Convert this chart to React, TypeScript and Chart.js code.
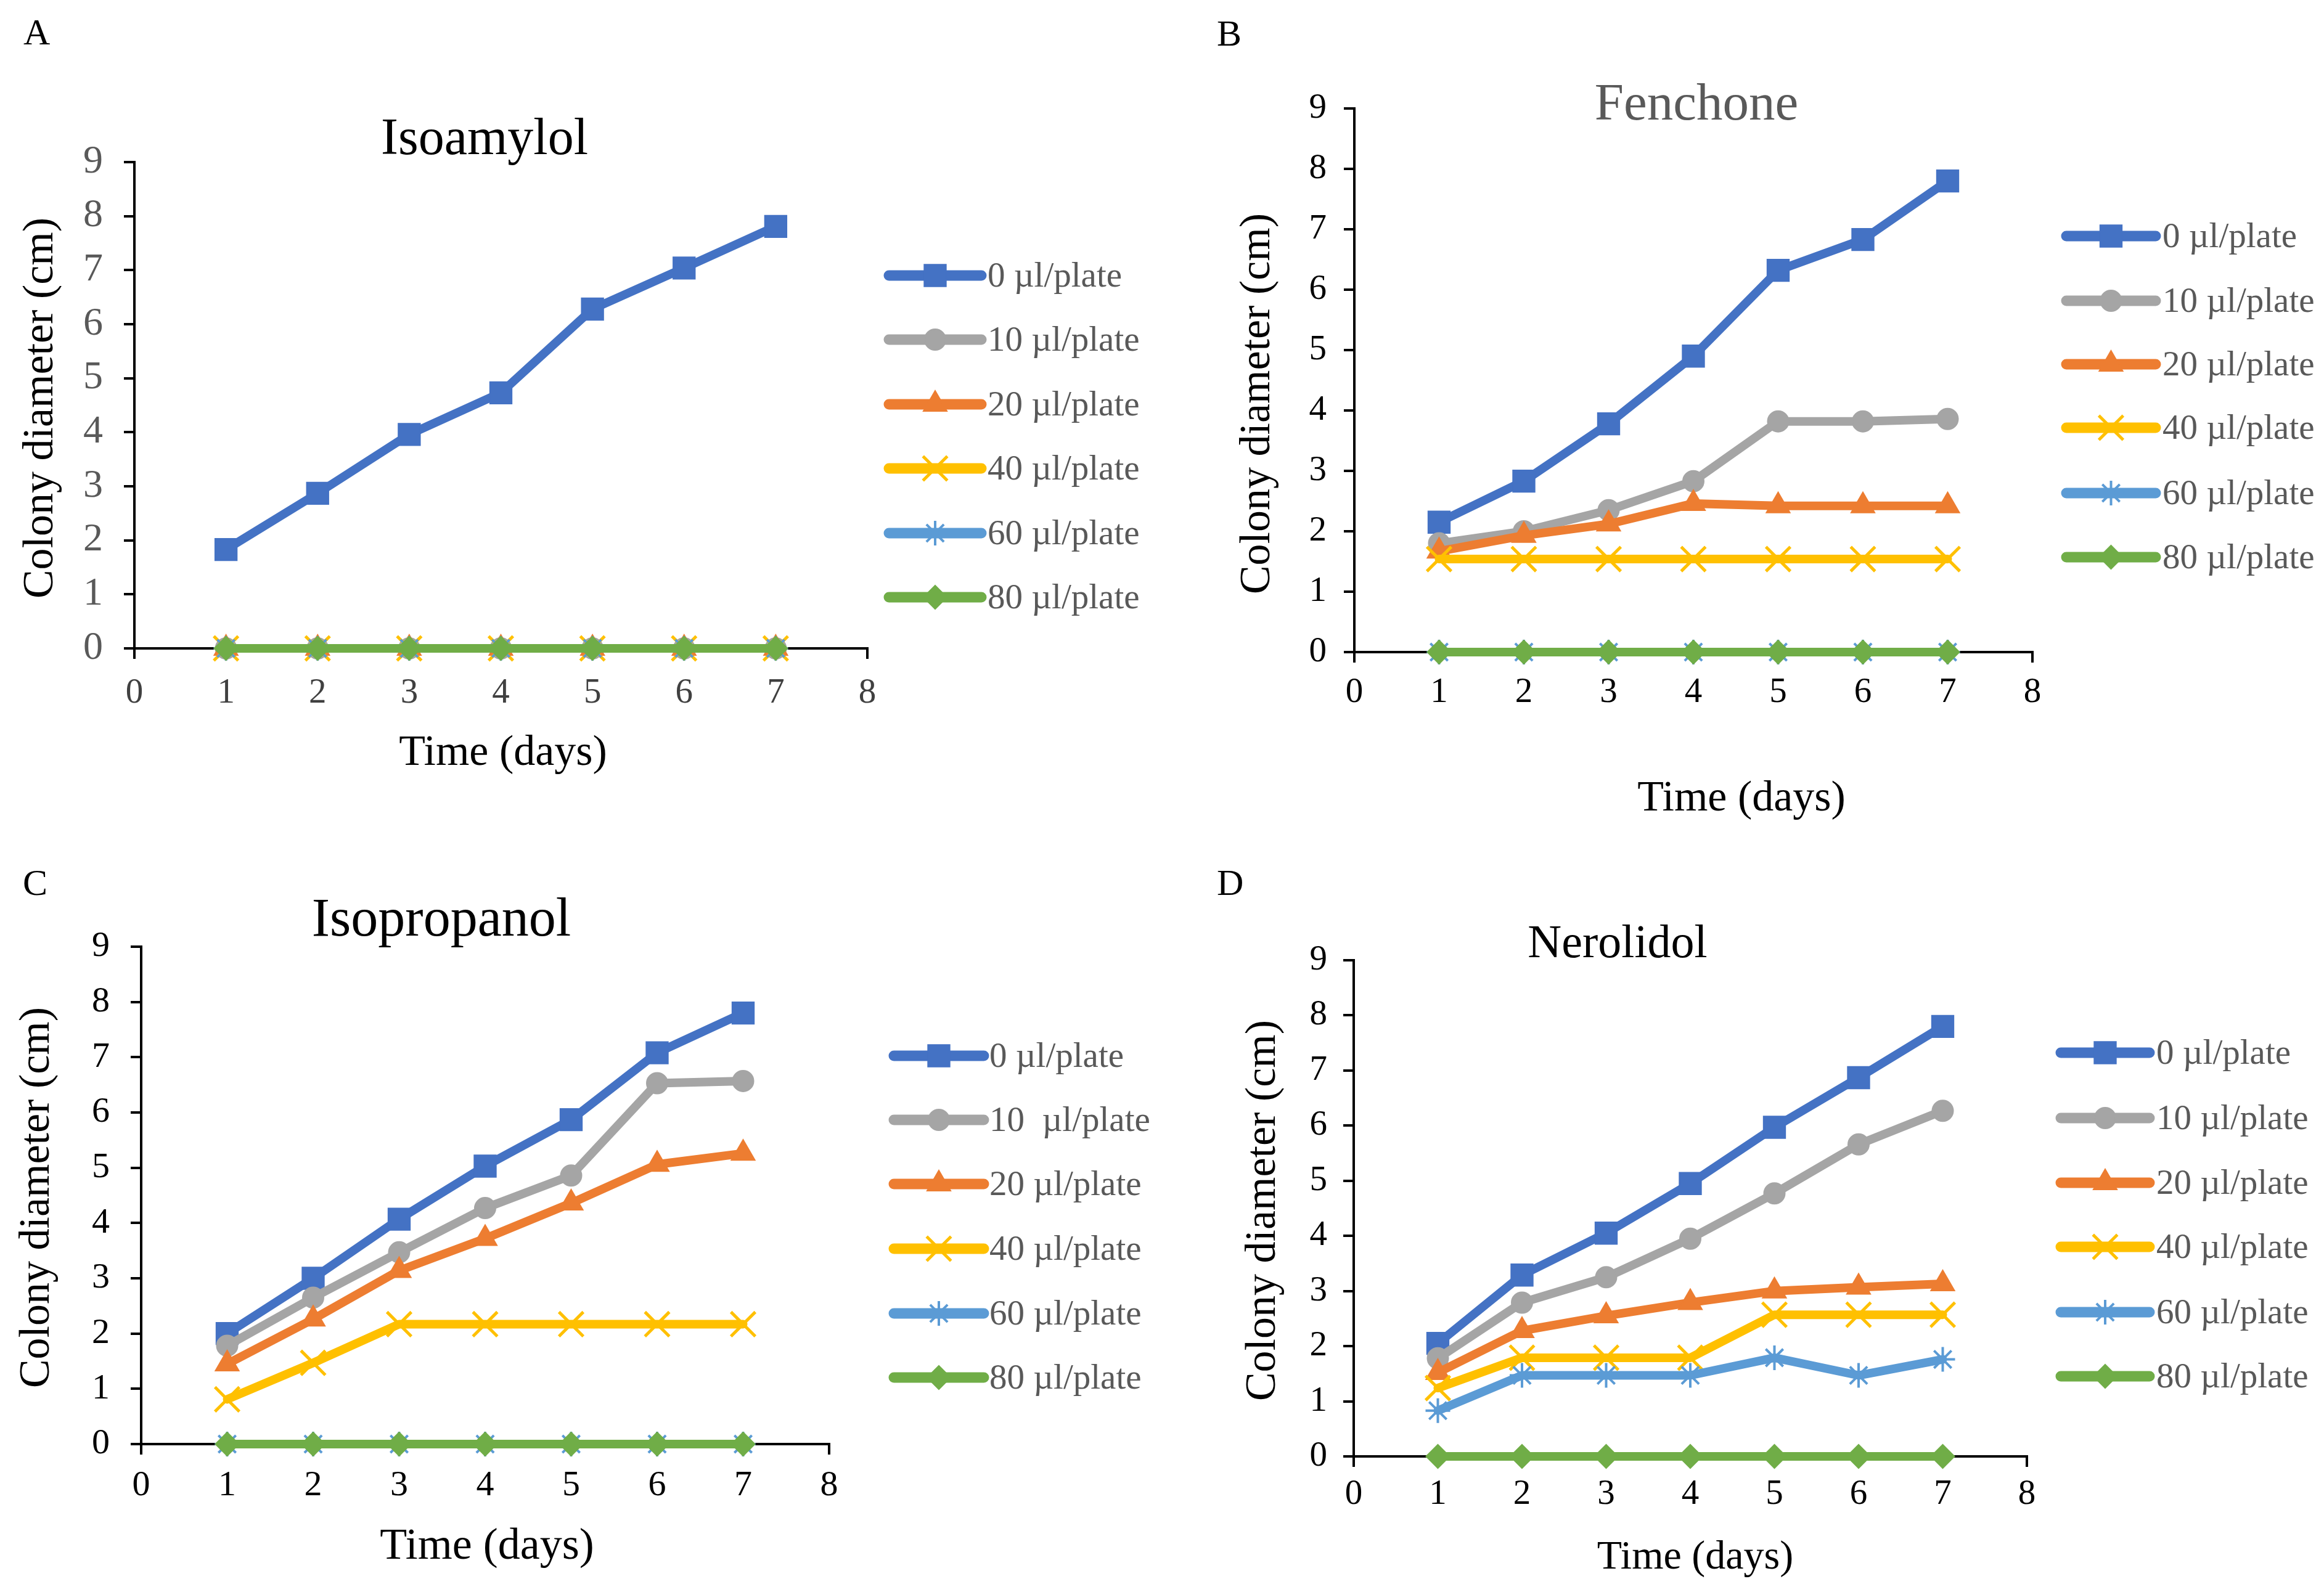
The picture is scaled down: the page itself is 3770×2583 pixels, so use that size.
import React, { useEffect, useRef } from 'react';
import { Chart, registerables } from 'chart.js';
import { drawPoint } from 'chart.js/helpers';

Chart.register(...registerables);

// ---------- data ----------
const days = [1, 2, 3, 4, 5, 6, 7];
const seriesLabels = ['0 µl/plate', '10 µl/plate', '20 µl/plate', '40 µl/plate', '60 µl/plate', '80 µl/plate'];
const seriesLabelsC = ['0 µl/plate', '10  µl/plate', '20 µl/plate', '40 µl/plate', '60 µl/plate', '80 µl/plate'];

// A: Isoamylol
const isoamylol0 = [1.83, 2.87, 3.96, 4.73, 6.28, 7.04, 7.81];
const isoamylol10 = [0, 0, 0, 0, 0, 0, 0];
const isoamylol20 = [0, 0, 0, 0, 0, 0, 0];
const isoamylol40 = [0, 0, 0, 0, 0, 0, 0];
const isoamylol60 = [0, 0, 0, 0, 0, 0, 0];
const isoamylol80 = [0, 0, 0, 0, 0, 0, 0];

// B: Fenchone
const fenchone0 = [2.15, 2.83, 3.78, 4.9, 6.32, 6.83, 7.8];
const fenchone10 = [1.8, 2.0, 2.35, 2.83, 3.82, 3.82, 3.86];
const fenchone20 = [1.67, 1.93, 2.12, 2.46, 2.42, 2.42, 2.42];
const fenchone40 = [1.54, 1.54, 1.54, 1.54, 1.54, 1.54, 1.54];
const fenchone60 = [0, 0, 0, 0, 0, 0, 0];
const fenchone80 = [0, 0, 0, 0, 0, 0, 0];

// C: Isopropanol
const isopropanol0 = [2.0, 3.0, 4.07, 5.03, 5.87, 7.08, 7.8];
const isopropanol10 = [1.78, 2.65, 3.47, 4.27, 4.86, 6.53, 6.57];
const isopropanol20 = [1.45, 2.26, 3.14, 3.72, 4.36, 5.06, 5.26];
const isopropanol40 = [0.81, 1.47, 2.17, 2.17, 2.17, 2.17, 2.17];
const isopropanol60 = [0, 0, 0, 0, 0, 0, 0];
const isopropanol80 = [0, 0, 0, 0, 0, 0, 0];

// D: Nerolidol
const nerolidol0 = [2.05, 3.29, 4.05, 4.95, 5.97, 6.87, 7.8];
const nerolidol10 = [1.78, 2.79, 3.25, 3.95, 4.77, 5.66, 6.27];
const nerolidol20 = [1.52, 2.28, 2.55, 2.79, 3.0, 3.07, 3.13];
const nerolidol40 = [1.24, 1.79, 1.79, 1.79, 2.57, 2.57, 2.57];
const nerolidol60 = [0.83, 1.47, 1.47, 1.47, 1.79, 1.47, 1.76];
const nerolidol80 = [0, 0, 0, 0, 0, 0, 0];

const xMin = 0;
const xMax = 8;
const yMin = 0;
const yMax = 9;
const tickStep = 1;

// ---------- styles ----------
const FONT = '"Liberation Serif", "Times New Roman", serif';
const seriesColors = ['#4472C4', '#A5A5A5', '#ED7D31', '#FFC000', '#5B9BD5', '#70AD47'];
const pointStyles = ['rect', 'circle', 'triangle', 'crossRot', 'star', 'rectRot'];
const pointRadii = [25, 17, 22, 28, 20, 19];
const pointBorders = [2, 2, 2, 5, 4, 2];

type TextItem = {
  text: string;
  x: number;
  y: number;
  size: number;
  color: string;
  align?: CanvasTextAlign;
  baseline?: CanvasTextBaseline;
  rotate?: boolean;
};

type PanelCfg = {
  left: number;
  top: number;
  width: number;
  height: number;
  area: { l: number; t: number; r: number; b: number };
  series: number[][];
  labels: string[];
  yTickColor: string;
  xTickColor: string;
  yTickSize: number;
  xTickSize: number;
  yTickPad: number;
  xTickPad: number;
  texts: TextItem[];
  legend: { x1: number; x2: number; tx: number; rows: number[] };
};

const Y_AXIS_W = 180;
const X_AXIS_H = 120;

const panels: PanelCfg[] = [
  {
    left: 0, top: 0, width: 1885, height: 1291,
    area: { l: 218, t: 263, r: 1407, b: 1052 },
    series: [isoamylol0, isoamylol10, isoamylol20, isoamylol40, isoamylol60, isoamylol80],
    labels: seriesLabels,
    yTickColor: '#595959', xTickColor: '#404040', yTickSize: 64, xTickSize: 57,
    yTickPad: 34, xTickPad: 22,
    texts: [
      { text: 'A', x: 38, y: 72, size: 60, color: '#000', align: 'left', baseline: 'alphabetic' },
      { text: 'Isoamylol', x: 786, y: 250, size: 84, color: '#000' },
      { text: 'Colony diameter (cm)', x: 67, y: 662, size: 70, color: '#000', rotate: true },
      { text: 'Time (days)', x: 816, y: 1241, size: 70, color: '#000' },
    ],
    legend: { x1: 1442, x2: 1592, tx: 1602, rows: [447, 551, 656, 760, 865, 969] },
  },
  {
    left: 1885, top: 0, width: 1885, height: 1340,
    area: { l: 312, t: 176, r: 1412, b: 1058 },
    series: [fenchone0, fenchone10, fenchone20, fenchone40, fenchone60, fenchone80],
    labels: seriesLabels,
    yTickColor: '#000', xTickColor: '#000', yTickSize: 57, xTickSize: 57,
    yTickPad: 28, xTickPad: 15,
    texts: [
      { text: 'B', x: 89, y: 74, size: 60, color: '#000', align: 'left', baseline: 'alphabetic' },
      { text: 'Fenchone', x: 867, y: 194, size: 85, color: '#595959' },
      { text: 'Colony diameter (cm)', x: 156, y: 655, size: 70, color: '#000', rotate: true },
      { text: 'Time (days)', x: 940, y: 1315, size: 70, color: '#000' },
    ],
    legend: { x1: 1467, x2: 1612, tx: 1623, rows: [383, 488, 591, 694, 800, 904] },
  },
  {
    left: 0, top: 1291, width: 1885, height: 1292,
    area: { l: 229, t: 245, r: 1345, b: 1052 },
    series: [isopropanol0, isopropanol10, isopropanol20, isopropanol40, isopropanol60, isopropanol80],
    labels: seriesLabelsC,
    yTickColor: '#000', xTickColor: '#000', yTickSize: 58, xTickSize: 58,
    yTickPad: 34, xTickPad: 16,
    texts: [
      { text: 'C', x: 37, y: 161, size: 60, color: '#000', align: 'left', baseline: 'alphabetic' },
      { text: 'Isopropanol', x: 716, y: 227, size: 88, color: '#000' },
      { text: 'Colony diameter (cm)', x: 61, y: 652, size: 70, color: '#000', rotate: true },
      { text: 'Time (days)', x: 790, y: 1238, size: 72, color: '#000' },
    ],
    legend: { x1: 1450, x2: 1596, tx: 1605, rows: [422, 526, 630, 735, 840, 944] },
  },
  {
    left: 1885, top: 1340, width: 1885, height: 1243,
    area: { l: 311, t: 218, r: 1403, b: 1023 },
    series: [nerolidol0, nerolidol10, nerolidol20, nerolidol40, nerolidol60, nerolidol80],
    labels: seriesLabels,
    yTickColor: '#000', xTickColor: '#000', yTickSize: 57, xTickSize: 57,
    yTickPad: 26, xTickPad: 11,
    texts: [
      { text: 'D', x: 89, y: 112, size: 60, color: '#000', align: 'left', baseline: 'alphabetic' },
      { text: 'Nerolidol', x: 739, y: 213, size: 76, color: '#000' },
      { text: 'Colony diameter (cm)', x: 165, y: 624, size: 70, color: '#000', rotate: true },
      { text: 'Time (days)', x: 865, y: 1205, size: 66, color: '#000' },
    ],
    legend: { x1: 1458, x2: 1602, tx: 1613, rows: [368, 474, 579, 683, 789, 893] },
  },
];

function makeOverlay(cfg: PanelCfg) {
  return {
    id: 'overlayText',
    afterDraw(chart: any) {
      const ctx: CanvasRenderingContext2D = chart.ctx;
      ctx.save();
      for (const t of cfg.texts) {
        ctx.save();
        ctx.font = `${t.size}px ${FONT}`;
        ctx.fillStyle = t.color;
        ctx.textAlign = t.align || 'center';
        ctx.textBaseline = t.baseline || (t.rotate ? 'middle' : 'alphabetic');
        if (t.rotate) {
          ctx.translate(t.x, t.y);
          ctx.rotate(-Math.PI / 2);
          ctx.fillText(t.text, 0, 0);
        } else {
          ctx.fillText(t.text, t.x, t.y);
        }
        ctx.restore();
      }
      const ds = chart.data.datasets;
      ds.forEach((d: any, i: number) => {
        const y = cfg.legend.rows[i];
        ctx.save();
        ctx.strokeStyle = d.borderColor;
        ctx.lineWidth = 17;
        ctx.lineCap = 'round';
        ctx.beginPath();
        ctx.moveTo(cfg.legend.x1, y);
        ctx.lineTo(cfg.legend.x2, y);
        ctx.stroke();
        ctx.fillStyle = d.pointBackgroundColor;
        ctx.strokeStyle = d.pointBorderColor;
        ctx.lineWidth = d.pointBorderWidth;
        ctx.lineCap = 'butt';
        drawPoint(ctx, {
          pointStyle: d.pointStyle,
          rotation: 0,
          radius: d.pointRadius,
          borderWidth: d.pointBorderWidth,
        } as any, (cfg.legend.x1 + cfg.legend.x2) / 2, y);
        ctx.font = `57px ${FONT}`;
        ctx.fillStyle = '#595959';
        ctx.textAlign = 'left';
        ctx.textBaseline = 'middle';
        ctx.fillText(d.label, cfg.legend.tx, y + 3);
        ctx.restore();
      });
      ctx.restore();
    },
  };
}

function PanelChart({ cfg }: { cfg: PanelCfg }) {
  const ref = useRef<HTMLCanvasElement | null>(null);
  useEffect(() => {
    if (!ref.current) return;
    const datasets = cfg.series.map((vals, i) => ({
      label: cfg.labels[i],
      data: vals.map((y, k) => ({ x: days[k], y })),
      borderColor: seriesColors[i],
      backgroundColor: seriesColors[i],
      borderWidth: 14,
      borderCapStyle: 'round',
      borderJoinStyle: 'round',
      tension: 0,
      pointStyle: pointStyles[i],
      pointRadius: pointRadii[i],
      pointBackgroundColor: seriesColors[i],
      pointBorderColor: seriesColors[i],
      pointBorderWidth: pointBorders[i],
      clip: false,
      order: 10 - i,
    }));
    const { l, t, r, b } = cfg.area;
    const chart = new Chart(ref.current, {
      type: 'line',
      data: { datasets } as any,
      plugins: [makeOverlay(cfg)],
      options: {
        responsive: false,
        animation: false,
        devicePixelRatio: 1,
        layout: {
          padding: {
            left: l - Y_AXIS_W,
            top: t,
            right: cfg.width - r,
            bottom: cfg.height - b - X_AXIS_H,
          },
        },
        plugins: {
          legend: { display: false },
          tooltip: { enabled: false },
          title: { display: false },
        },
        scales: {
          x: {
            type: 'linear',
            min: xMin,
            max: xMax,
            ticks: {
              stepSize: tickStep,
              font: { family: FONT, size: cfg.xTickSize },
              color: cfg.xTickColor,
              padding: cfg.xTickPad,
            },
            grid: { drawOnChartArea: false, drawTicks: true, tickLength: 17, color: '#000', lineWidth: 4 },
            border: { display: true, color: '#000', width: 4 },
            afterFit: (s: any) => { s.height = X_AXIS_H; },
          },
          y: {
            type: 'linear',
            min: yMin,
            max: yMax,
            ticks: {
              stepSize: tickStep,
              font: { family: FONT, size: cfg.yTickSize },
              color: cfg.yTickColor,
              padding: cfg.yTickPad,
            },
            grid: { drawOnChartArea: false, drawTicks: true, tickLength: 17, color: '#000', lineWidth: 4 },
            border: { display: true, color: '#000', width: 4 },
            afterFit: (s: any) => { s.width = Y_AXIS_W; },
          },
        },
      } as any,
    });
    return () => chart.destroy();
  }, [cfg]);
  return (
    <canvas
      ref={ref}
      width={cfg.width}
      height={cfg.height}
      style={{ position: 'absolute', left: cfg.left, top: cfg.top, width: cfg.width, height: cfg.height }}
    />
  );
}

export default function App() {
  return (
    <div style={{ position: 'absolute', left: 0, top: 0, width: 3770, height: 2583, background: '#fff', overflow: 'hidden' }}>
      {panels.map((p, i) => (
        <PanelChart key={i} cfg={p} />
      ))}
    </div>
  );
}
